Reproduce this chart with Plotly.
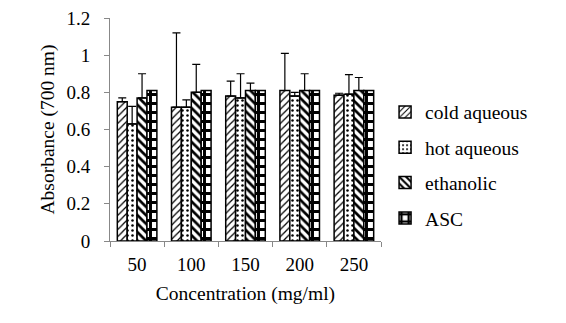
import plotly.graph_objects as go

concentrations = ["50", "100", "150", "200", "250"]

cold_aqueous = [0.75, 0.72, 0.78, 0.81, 0.785]
cold_aqueous_err = [0.02, 0.40, 0.08, 0.20, 0.01]

hot_aqueous = [0.63, 0.72, 0.77, 0.78, 0.79]
hot_aqueous_err = [0.095, 0.04, 0.13, 0.02, 0.105]

ethanolic = [0.77, 0.80, 0.81, 0.81, 0.81]
ethanolic_err = [0.13, 0.15, 0.04, 0.09, 0.07]

asc = [0.81, 0.81, 0.81, 0.81, 0.81]

font = "Liberation Serif, serif"

series = [
    ("cold aqueous", cold_aqueous, cold_aqueous_err, "/", 5, 0.25),
    ("hot aqueous", hot_aqueous, hot_aqueous_err, ".", 5, 0.2),
    ("ethanolic", ethanolic, ethanolic_err, "\\", 6, 0.45),
    ("ASC", asc, None, "+", 9, 0.55),
]

fig = go.Figure()
for i, (name, vals, err, shape, size, solid) in enumerate(series):
    err_y = None
    if err is not None:
        err_y = dict(type="data", symmetric=False, array=err,
                     arrayminus=[0] * len(err), color="black",
                     thickness=1.2, width=4)
    fig.add_trace(go.Bar(
        name=name, x=concentrations, y=vals, error_y=err_y,
        legendgroup=str(i),
        marker=dict(color="white",
                    line=dict(color="black", width=1.5),
                    pattern=dict(shape=shape, size=size, solidity=solid,
                                 fgcolor="black", bgcolor="white",
                                 fillmode="replace")),
    ))

# page body adds 8px, so margins are shifted to keep the plot where the reference has it
fig.update_layout(
    width=566, height=323,
    margin=dict(l=102, r=193, t=10, b=90),
    paper_bgcolor="white", plot_bgcolor="white",
    font=dict(family=font, size=19, color="black"),
    barmode="group", bargap=0.27, bargroupgap=0,
    showlegend=True,
    legend=dict(x=1.015, y=0.665, xanchor="left", yanchor="top",
                tracegroupgap=7, itemwidth=30,
                font=dict(family=font, size=19.5, color="black")),
)
fig.update_xaxes(
    title=dict(text="Concentration (mg/ml)", standoff=12,
               font=dict(family=font, size=19.5)),
    automargin=False,
    showline=True, linecolor="#888", linewidth=1,
    ticks="outside", tickson="boundaries", ticklen=5, tickcolor="#888",
    ticklabelstandoff=6,
    showgrid=False,
)
fig.update_yaxes(
    title=dict(text="Absorbance (700 nm)", standoff=6,
               font=dict(family=font, size=19.5)),
    automargin=False,
    range=[0, 1.2001], dtick=0.2, tickformat="~g",
    showline=True, linecolor="#888", linewidth=1,
    ticks="outside", ticklen=5, tickcolor="#888",
    ticklabelstandoff=10, ticklabeloverflow="allow",
    showgrid=False, zeroline=False,
)

fig.write_html("out.html")
